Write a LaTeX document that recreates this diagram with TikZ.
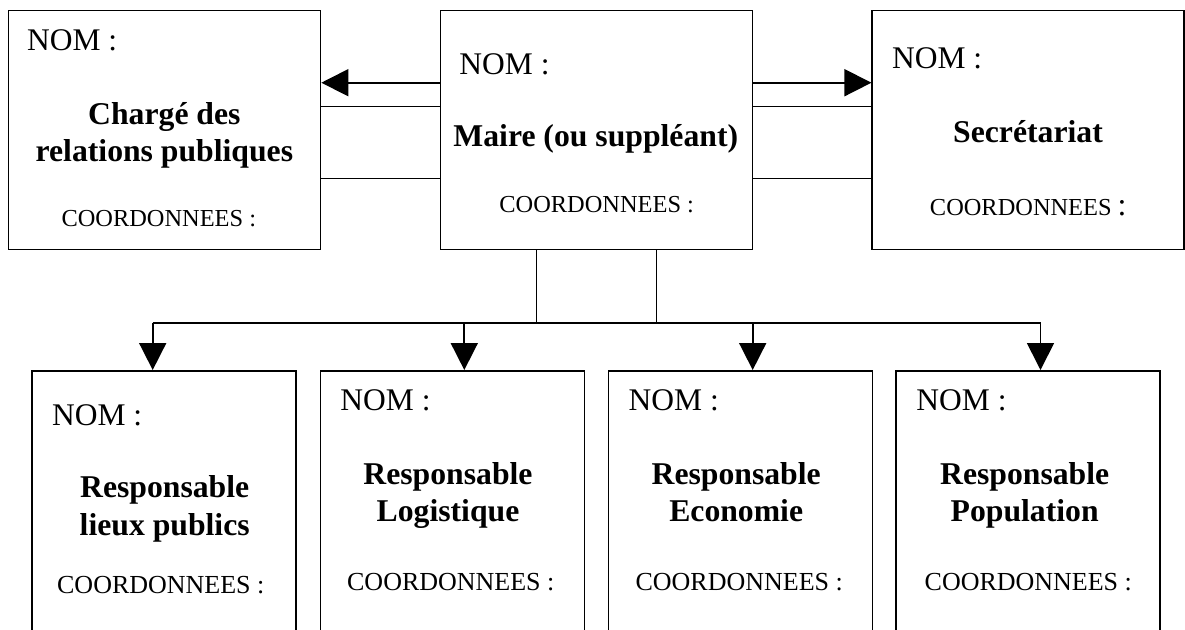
\documentclass[tikz,border=0pt]{standalone}
\usepackage{fontspec}
\setmainfont{Liberation Serif}
\usepackage{tikz}
\usetikzlibrary{arrows.meta}

\begin{document}
\begin{tikzpicture}[
  x=0.5pt, y=-0.5pt,
  box/.style={rectangle, draw, line width=0.75pt, minimum width=156pt, minimum height=119.4pt, inner sep=0pt},
  subbox/.style={rectangle, draw, line width=0.75pt, minimum width=132pt, minimum height=150pt, inner sep=0pt, anchor=north},
  nom/.style={anchor=base west, inner sep=0pt, font=\fontsize{15.75pt}{18pt}\selectfont},
  role/.style={anchor=base, inner sep=0pt, align=center, font=\fontsize{15.85pt}{18.85pt}\selectfont\bfseries},
  coord/.style={anchor=base, inner sep=0pt, font=\fontsize{12.2pt}{14pt}\selectfont},
  subcoord/.style={anchor=base, inner sep=0pt, font=\fontsize{13pt}{15pt}\selectfont},
  msg/.style={-{Triangle[length=13.5pt, width=13.5pt]}, line width=0.85pt},
  link/.style={line width=0.55pt},
  bus/.style={line width=0.85pt},
]
  \useasboundingbox (0,0) rectangle (1185,629);
  \clip (0,0) rectangle (1185,629);

  % Top row
  \node[box] (relpub) at (164.6,130.1) {};
  \node[box] (maire) at (596.3,130.1) {};
  \node[box] (secr) at (1028.2,130.1) {};

  \node[nom] (relpub-nom) at (26.7,50) {NOM :};
  \node[role] (relpub-role) at (164.4,161.7) {Chargé des\\relations publiques};
  \node[coord] (relpub-coord) at (158.8,226.7) {COORDONNEES :};

  \node[nom] (maire-nom) at (459,74) {NOM :};
  \node[role] (maire-role) at (595.8,146) {Maire (ou suppléant)};
  \node[coord] (maire-coord) at (596.7,212.7) {COORDONNEES :};

  \node[nom] (secr-nom) at (891.7,68.3) {NOM :};
  \node[role] (secr-role) at (1028,142.7) {Secrétariat};
  \node[coord] (secr-coord) at (1028.3,215) {COORDONNEES {\fontsize{16pt}{16pt}\selectfont :}};

  % Bottom row
  \node[subbox] (r1) at (164.2,370) {};
  \node[subbox] (r2) at (452.3,370) {};
  \node[subbox] (r3) at (740.5,370) {};
  \node[subbox] (r4) at (1028,370) {};

  \node[nom] (r1-nom) at (51.7,425) {NOM :};
  \node[role] (r1-role) at (164.7,535) {Responsable\\lieux publics};
  \node[subcoord] (r1-coord) at (160.8,593.3) {COORDONNEES :};

  \node[nom] (r2-nom) at (340,410) {NOM :};
  \node[role] (r2-role) at (448,521.7) {Responsable\\Logistique};
  \node[subcoord] (r2-coord) at (450.8,590) {COORDONNEES :};

  \node[nom] (r3-nom) at (628.3,410) {NOM :};
  \node[role] (r3-role) at (736.2,521.7) {Responsable\\Economie};
  \node[subcoord] (r3-coord) at (739.2,590) {COORDONNEES :};

  \node[nom] (r4-nom) at (916,410) {NOM :};
  \node[role] (r4-role) at (1024.7,521.7) {Responsable\\Population};
  \node[subcoord] (r4-coord) at (1028.3,590) {COORDONNEES :};

  % Side links
  \coordinate (armY) at (0,82.7);
  \coordinate (topY) at (0,106.7);
  \coordinate (lowY) at (0,178.3);
  \draw[msg] (maire.west |- armY) -- (relpub.east |- armY);
  \draw[msg] (maire.east |- armY) -- (secr.west |- armY);
  \draw[link] (relpub.east |- topY) -- (maire.west |- topY);
  \draw[link] (relpub.east |- lowY) -- (maire.west |- lowY);
  \draw[link] (maire.east |- topY) -- (secr.west |- topY);
  \draw[link] (maire.east |- lowY) -- (secr.west |- lowY);

  % Links down to the team
  \coordinate (j1) at (536.7,322.7);
  \coordinate (j2) at (656.7,322.7);
  \draw[link] (maire.south -| j1) -- (j1);
  \draw[link] (maire.south -| j2) -- (j2);

  \coordinate (b1) at (152.7,322.7);
  \coordinate (b2) at (464.3,322.7);
  \coordinate (b3) at (752.7,322.7);
  \coordinate (b4) at (1040.5,322.7);
  \draw[bus] (b1) -- (b4);
  \draw[msg] (b1) -- (b1 |- r1.north);
  \draw[msg] (b2) -- (b2 |- r2.north);
  \draw[msg] (b3) -- (b3 |- r3.north);
  \draw[msg] (b4) -- (b4 |- r4.north);
\end{tikzpicture}
\end{document}
